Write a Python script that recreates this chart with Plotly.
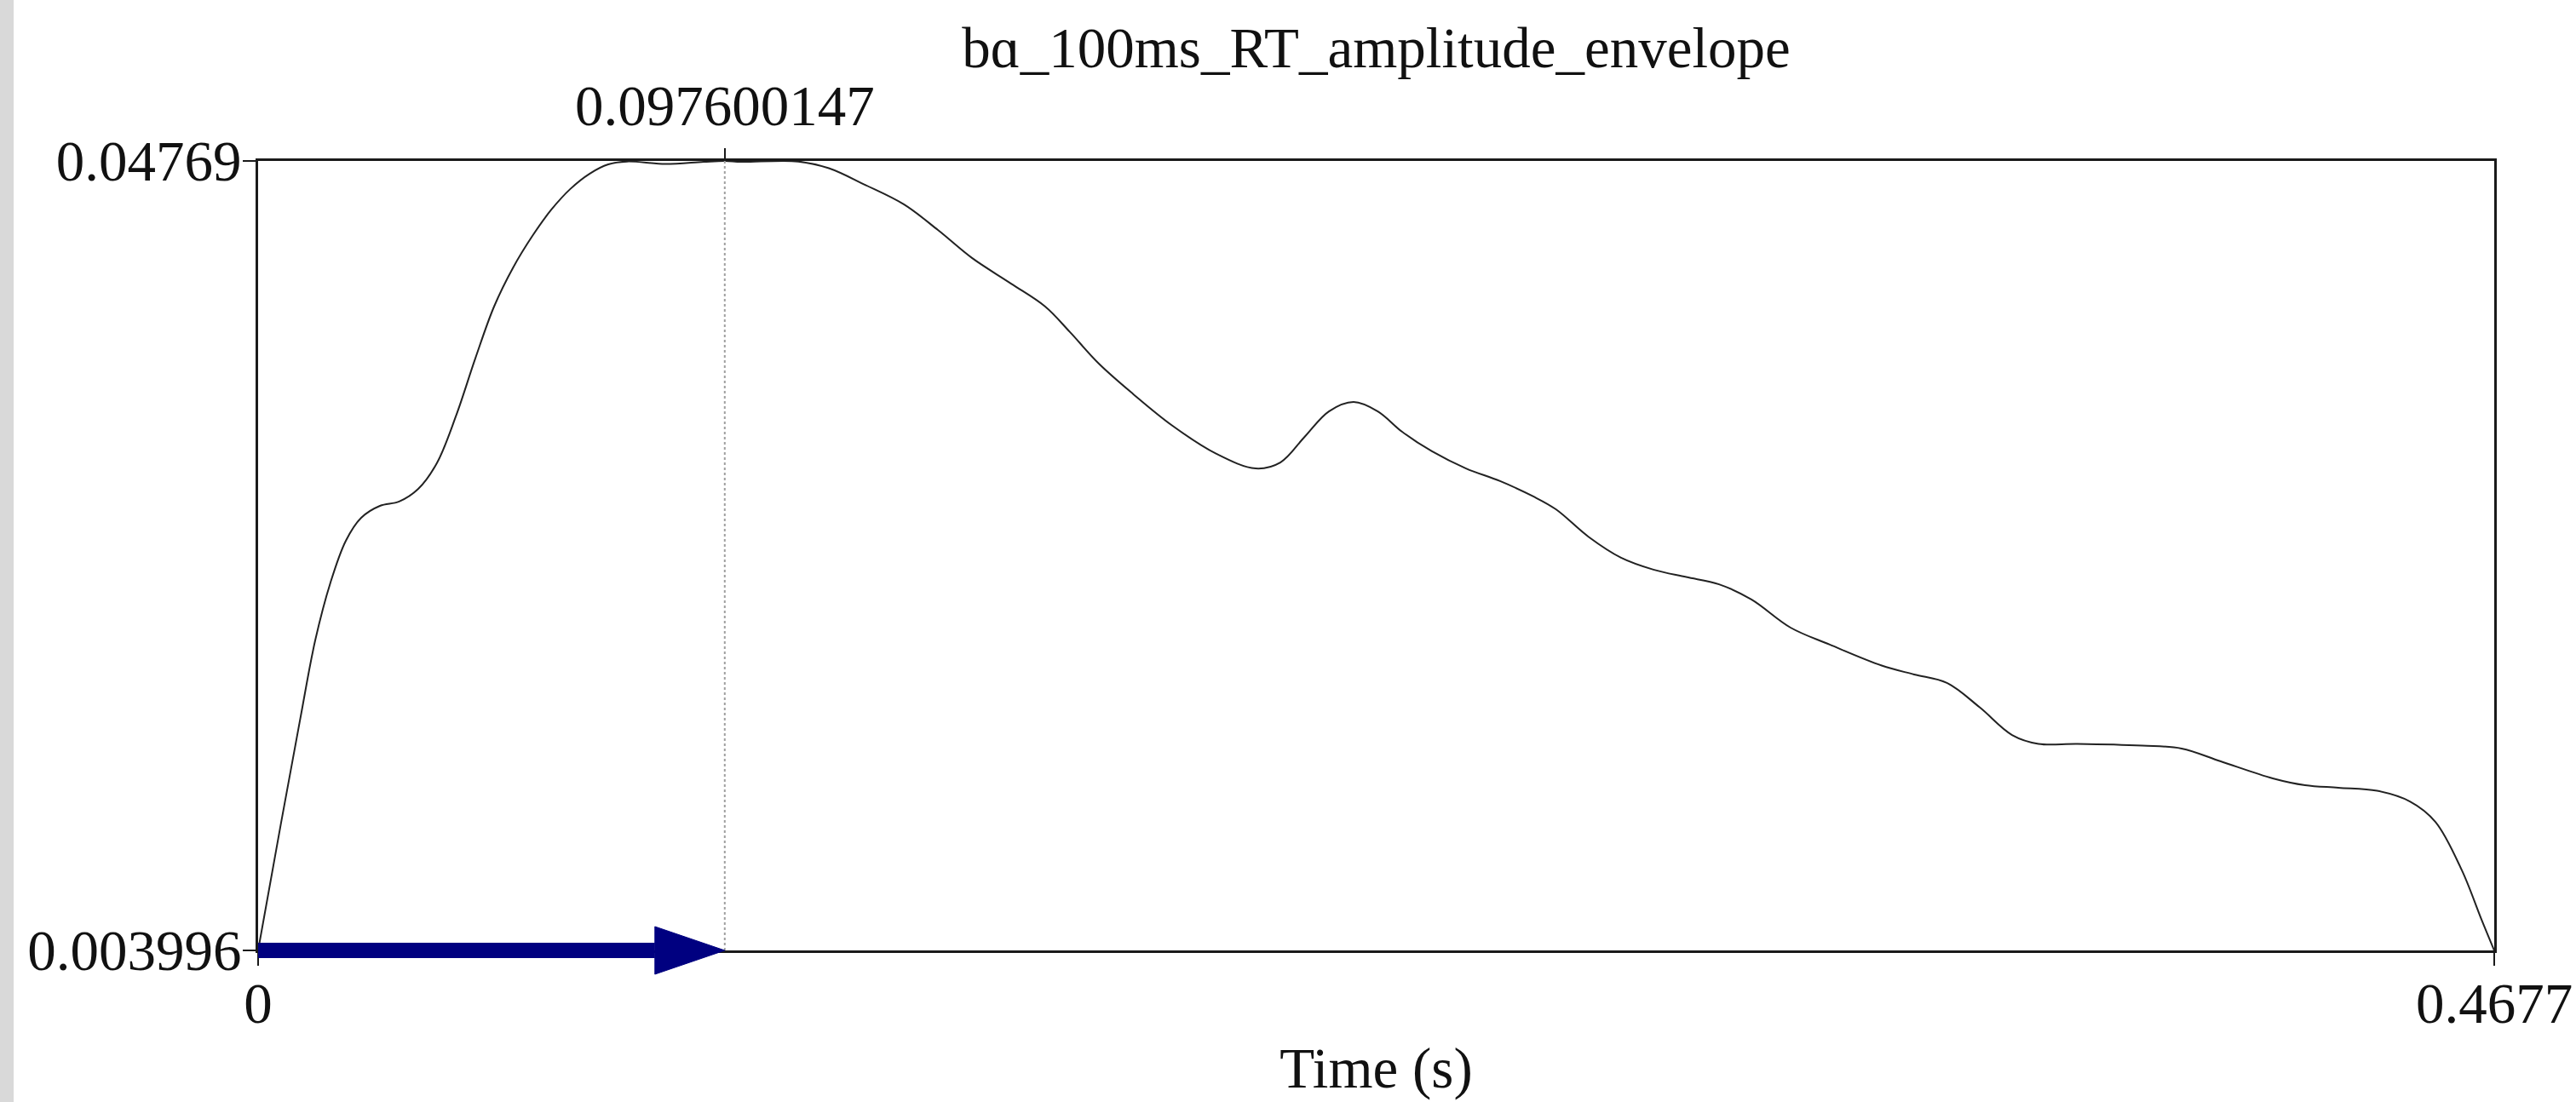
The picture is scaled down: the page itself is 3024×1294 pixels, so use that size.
import plotly.graph_objects as go

# ---------------- data ----------------
title_text = "bɑ_100ms_RT_amplitude_envelope"
x_label = "Time (s)"

time_s = [0.0, 0.00481, 0.00882, 0.01194, 0.01514, 0.01835, 0.02156, 0.02548, 0.02950,
          0.03350, 0.03742, 0.04142, 0.04543, 0.04935, 0.05336, 0.05737, 0.06129, 0.06530,
          0.06931, 0.07323, 0.07715, 0.08517, 0.09318, 0.097600147, 0.10102, 0.11296,
          0.11937, 0.12686, 0.13505, 0.14218, 0.14931, 0.15750, 0.16463, 0.16980, 0.17585,
          0.18307, 0.19127, 0.20044, 0.20864, 0.21380, 0.21888, 0.22396, 0.22913, 0.23420,
          0.23928, 0.24552, 0.25265, 0.25977, 0.26672, 0.27144, 0.27830, 0.28507, 0.29184,
          0.29870, 0.30556, 0.31233, 0.32053, 0.32872, 0.33959, 0.34636, 0.35322, 0.36008,
          0.36685, 0.37238, 0.38050, 0.39411, 0.40231, 0.41050, 0.42137, 0.42814, 0.43509,
          0.44320, 0.45006, 0.45540, 0.46093, 0.46503, 0.4677]

amplitude = [0.003996, 0.01107, 0.01682, 0.02115, 0.02436, 0.02667, 0.02794, 0.02860, 0.02884,
             0.02954, 0.03098, 0.03360, 0.03676, 0.03963, 0.04180, 0.04354, 0.04498, 0.04614,
             0.04698, 0.04750, 0.04766, 0.04752, 0.04764, 0.04769, 0.04764, 0.04766,
             0.04729, 0.04638, 0.04529, 0.04387, 0.04232, 0.04090, 0.03963, 0.03822, 0.03647,
             0.03478, 0.03303, 0.03148, 0.03067, 0.03100, 0.03242, 0.03383, 0.03435, 0.03383,
             0.03270, 0.03162, 0.03067, 0.02997, 0.02912, 0.02841, 0.02688, 0.02573, 0.02507,
             0.02466, 0.02426, 0.02342, 0.02186, 0.02092, 0.01976, 0.01927, 0.01880, 0.01745,
             0.01592, 0.01543, 0.01543, 0.01533, 0.01517, 0.01446, 0.01352, 0.01314, 0.01300,
             0.01283, 0.01224, 0.01111, 0.00843, 0.00571, 0.003996]

x_min, x_max = 0.0, 0.4677
y_min, y_max = 0.003996, 0.04769
peak_time = 0.097600147

x_tick_vals = [0.0, 0.4677]
x_tick_text = ["0", "0.4677"]
y_tick_vals = [0.003996, 0.04769]
y_tick_text = ["0.003996", "0.04769"]
peak_tick_text = ["0.097600147"]

# ---------------- layout constants ----------------
W, H = 3024, 1294
ML, MR, MT, MB = 303, 96, 189, 178
PLOT_W = W - ML - MR
PLOT_H = H - MT - MB
FONT = "Liberation Serif, Times New Roman, serif"
FS = 67
NAVY = "#000080"
HEAD_LEN = 82
HEAD_HALF = 28

fig = go.Figure()

fig.add_trace(go.Scatter(
    x=time_s, y=amplitude, mode="lines",
    line=dict(color="#222222", width=2, shape="spline", smoothing=1.0),
    hoverinfo="x+y", showlegend=False,
))

# invisible trace to activate top axis
fig.add_trace(go.Scatter(x=[peak_time], y=[y_max], xaxis="x2", mode="markers",
                         marker=dict(opacity=0), showlegend=False, hoverinfo="skip"))

axis_common = dict(showgrid=False, zeroline=False, showline=True, linecolor="#1a1a1a",
                   linewidth=3, ticks="outside", ticklen=15, tickwidth=2, tickcolor="#1a1a1a",
                   tickfont=dict(family=FONT, size=FS, color="#111111"))

fig.update_layout(
    width=W, height=H,
    margin=dict(l=ML, r=MR, t=MT, b=MB, autoexpand=False),
    paper_bgcolor="white", plot_bgcolor="white",
    title=dict(text=title_text, x=0.5, xref="paper", y=1 - 56 / H, yref="container",
               xanchor="center", yanchor="middle",
               font=dict(family=FONT, size=FS, color="#111111")),
    xaxis=dict(range=[x_min, x_max], tickvals=x_tick_vals, ticktext=x_tick_text,
               mirror=True, ticklabelstandoff=-13,
               title=dict(text=x_label, standoff=16,
                          font=dict(family=FONT, size=FS, color="#111111")),
               **axis_common),
    xaxis2=dict(range=[x_min, x_max], overlaying="x", side="top", anchor="y",
                tickvals=[peak_time], ticktext=peak_tick_text, showgrid=False,
                zeroline=False, showline=False, ticks="outside", ticklen=14, tickwidth=2,
                tickcolor="#1a1a1a", tickfont=dict(family=FONT, size=FS, color="#111111")),
    yaxis=dict(range=[y_min, y_max], tickvals=y_tick_vals, ticktext=y_tick_text,
               mirror=True, ticklabelstandoff=-12, **axis_common),
)

# gray strip at the far left edge
fig.add_shape(type="rect", xref="paper", yref="paper",
              x0=-ML / PLOT_W, x1=(16 - ML) / PLOT_W,
              y0=-MB / PLOT_H, y1=1 + MT / PLOT_H,
              fillcolor="#d9d9d9", line=dict(width=0), layer="below")

# dotted cursor line at the peak
fig.add_shape(type="line", xref="x", yref="y", x0=peak_time, x1=peak_time,
              y0=y_min, y1=y_max, line=dict(color="#a0a0a0", width=2, dash="dot"),
              layer="above")

# arrow from 0 to the peak time (bottom edge of plot = y_min = paper 0)
head_len_data = HEAD_LEN * (x_max - x_min) / PLOT_W
fig.add_shape(type="line", xref="x", yref="paper", x0=x_min, x1=peak_time - head_len_data,
              y0=0, y1=0, line=dict(color=NAVY, width=18), layer="above")
fig.add_shape(type="path", xref="x", yref="paper", xsizemode="pixel", ysizemode="pixel",
              xanchor=peak_time, yanchor=0,
              path=f"M0,0 L{-HEAD_LEN},{HEAD_HALF} L{-HEAD_LEN},{-HEAD_HALF} Z",
              fillcolor=NAVY, line=dict(color=NAVY, width=1), layer="above")

fig.write_html("out.html", config={"displayModeBar": False},
               post_script="document.body.style.margin='0';")
